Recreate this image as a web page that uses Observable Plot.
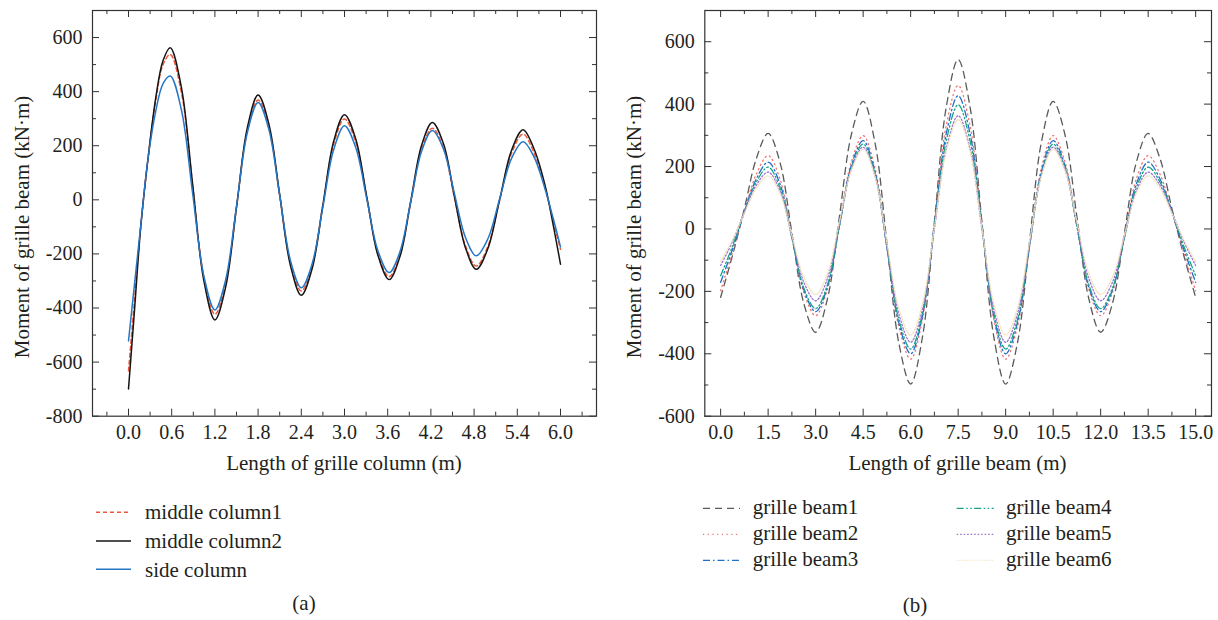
<!DOCTYPE html>
<html><head><meta charset="utf-8">
<script src="https://cdn.jsdelivr.net/npm/d3@7"></script>
<script src="https://cdn.jsdelivr.net/npm/@observablehq/plot@0.6"></script>
<style>
body{margin:0;background:#fff;}
#wrap{position:relative;width:1218px;height:620px;background:#fff;}
#wrap > div.p{position:absolute;top:0;}
#overlay{position:absolute;left:0;top:0;pointer-events:none;}
#overlay text{font-family:"Liberation Serif",serif;fill:#231f20;}
</style></head>
<body><div id="wrap"><div class="p" id="pa" style="left:0"></div><div class="p" id="pb" style="left:609px"></div></div>
<script>
// ---------- Panel (a) data ----------
const columnX = [0, 0.08, 0.17, 0.27, 0.38, 0.48, 0.58, 0.735, 0.89, 1.045, 1.2, 1.35, 1.5, 1.65, 1.8, 1.95, 2.1, 2.25, 2.4, 2.55, 2.7, 2.85, 3.0, 3.155, 3.31, 3.465, 3.62, 3.77, 3.92, 4.07, 4.22, 4.375, 4.525, 4.68, 4.83, 4.99, 5.155, 5.32, 5.48, 5.63, 5.78, 5.9, 6.0];
const middleColumn1 = [-633, -380, -98, 150, 370, 500, 537, 396, 57, -282, -423, -307, -27, 253, 369, 266, 16, -234, -337, -244, -19, 206, 299, 214, 8, -199, -284, -204, -10, 185, 265, 190, 10, -170, -245, -173, -1, 172, 243, 175, 50, -80, -183];
const middleColumn2 = [-699, -420, -100, 150, 380, 515, 562, 415, 59, -297, -444, -322, -28, 266, 388, 280, 18, -244, -353, -255, -19, 217, 315, 226, 10, -206, -295, -210, -5, 201, 286, 207, 15, -177, -257, -181, 1, 183, 259, 190, 60, -95, -238];
const sideColumn = [-522, -320, -95, 150, 330, 430, 458, 332, 26, -280, -407, -295, -24, 248, 360, 260, 18, -225, -325, -237, -26, 186, 274, 194, 3, -189, -269, -192, -7, 179, 256, 188, 25, -139, -207, -145, 4, 153, 215, 160, 45, -70, -174];
const colTicks = [0, 0.6, 1.2, 1.8, 2.4, 3.0, 3.6, 4.2, 4.8, 5.4, 6.0];
const colMinor = [-0.3, 0.3, 0.9, 1.5, 2.1, 2.7, 3.3, 3.9, 4.5, 5.1, 5.7, 6.3];
const momentTicksA = [600, 400, 200, 0, -200, -400, -600, -800];
const momentMinorA = [500, 300, 100, -100, -300, -500, -700];

// ---------- Panel (b) data ----------
const beamX = [0, 0.375, 0.75, 1.125, 1.5, 1.875, 2.25, 2.625, 3.0, 3.375, 3.75, 4.125, 4.5, 4.875, 5.25, 5.625, 6.0, 6.375, 6.75, 7.125, 7.5, 7.875, 8.25, 8.625, 9.0, 9.375, 9.75, 10.125, 10.5, 10.875, 11.25, 11.625, 12.0, 12.375, 12.75, 13.125, 13.5, 13.875, 14.25, 14.625, 15.0];
const grilleBeam1 = [-219, -85, 65, 225, 306, 213, -13, -238, -331, -223, 39, 301, 409, 276, -44, -364, -497, -345, 23, 391, 543, 391, 23, -345, -497, -364, -44, 276, 409, 301, 39, -223, -331, -238, -13, 213, 306, 225, 65, -85, -219];
const grilleBeam2 = [-198, -75, 55, 175, 235, 160, -22, -203, -278, -193, 11, 214, 299, 194, -59, -312, -417, -289, 22, 332, 460, 332, 22, -289, -417, -312, -59, 194, 299, 214, 11, -193, -278, -203, -22, 160, 235, 175, 55, -75, -198];
const grilleBeam3 = [-171, -65, 55, 160, 214, 144, -26, -195, -265, -185, 9, 203, 283, 183, -59, -300, -400, -279, 14, 306, 427, 306, 14, -279, -400, -300, -59, 183, 283, 203, 9, -185, -265, -195, -26, 144, 214, 160, 55, -65, -171];
const grilleBeam4 = [-150, -55, 55, 150, 198, 132, -29, -189, -255, -178, 9, 195, 272, 176, -57, -289, -385, -270, 7, 283, 398, 283, 7, -270, -385, -289, -57, 176, 272, 195, 9, -178, -255, -189, -29, 132, 198, 150, 55, -55, -150];
const grilleBeam5 = [-117, -40, 55, 140, 182, 122, -24, -170, -230, -158, 16, 190, 262, 170, -51, -271, -363, -257, 0, 257, 363, 257, 0, -257, -363, -271, -51, 170, 262, 190, 16, -158, -230, -170, -24, 122, 182, 140, 55, -40, -117];
const grilleBeam6 = [-105, -35, 50, 130, 170, 114, -20, -154, -210, -142, 23, 187, 255, 168, -43, -253, -340, -239, 5, 249, 350, 249, 5, -239, -340, -253, -43, 168, 255, 187, 23, -142, -210, -154, -20, 114, 170, 130, 50, -35, -105];
const beamTicks = [0, 1.5, 3.0, 4.5, 6.0, 7.5, 9.0, 10.5, 12.0, 13.5, 15.0];
const beamMinor = [0.75, 2.25, 3.75, 5.25, 6.75, 8.25, 9.75, 11.25, 12.75, 14.25];
const momentTicksB = [600, 400, 200, 0, -200, -400, -600];
const momentMinorB = [500, 300, 100, -100, -300, -500];

// ---------- Series styles ----------
const seriesA = [
  {name: "middle column1", values: middleColumn1, stroke: "#ee5b3b", dash: "4,3", width: 1.5},
  {name: "middle column2", values: middleColumn2, stroke: "#151515", dash: null, width: 1.5},
  {name: "side column", values: sideColumn, stroke: "#2577c6", dash: null, width: 1.5}
];
const seriesB = [
  {name: "grille beam1", values: grilleBeam1, stroke: "#5a5a5a", dash: "7,5", width: 1.3},
  {name: "grille beam2", values: grilleBeam2, stroke: "#f07474", dash: "1.2,3.5", width: 1.3},
  {name: "grille beam3", values: grilleBeam3, stroke: "#1f6fc8", dash: "7,3,1.5,3", width: 1.3},
  {name: "grille beam4", values: grilleBeam4, stroke: "#17a384", dash: "7,2.5,1.5,2.5,1.5,2.5", width: 1.3},
  {name: "grille beam5", values: grilleBeam5, stroke: "#9c72d2", dash: "1.5,2", width: 1.3},
  {name: "grille beam6", values: grilleBeam6, stroke: "#f1e2ba", dash: "1,1.5", width: 1.3}
];

const H = 480, MT = 10, MB = 64.3, FH = H - MT - MB;
const axisColor = "#333";
const fontStyle = {fontFamily: "'Liberation Serif', serif", fontSize: "20px", color: "#231f20", background: "white", overflow: "visible"};

function tickMarks(xMajor, xMinor, yMajor, yMinor, FW) {
  const M = 7, m = 4;
  return [
    Plot.tickX(xMajor, {x: d => d, insetTop: FH - M, stroke: axisColor}),
    Plot.tickX(xMinor, {x: d => d, insetTop: FH - m, stroke: axisColor}),
    Plot.tickX(xMajor, {x: d => d, insetBottom: FH - M, stroke: axisColor}),
    Plot.tickX(xMinor, {x: d => d, insetBottom: FH - m, stroke: axisColor}),
    Plot.tickY(yMajor, {y: d => d, insetRight: FW - M, stroke: axisColor}),
    Plot.tickY(yMinor, {y: d => d, insetRight: FW - m, stroke: axisColor}),
    Plot.tickY(yMajor, {y: d => d, insetLeft: FW - M, stroke: axisColor}),
    Plot.tickY(yMinor, {y: d => d, insetLeft: FW - m, stroke: axisColor})
  ];
}

function lineMarks(xs, series) {
  return series.map(s => Plot.line(xs.map((x, i) => ({x, v: s.values[i]})), {
    x: "x", y: "v", stroke: s.stroke, strokeWidth: s.width, strokeDasharray: s.dash, curve: "catmull-rom"
  }));
}

// Panel (a)
const WA = 609, MLA = 92, MRA = 13;
const plotA = Plot.plot({
  width: WA, height: H, marginLeft: MLA, marginRight: MRA, marginTop: MT, marginBottom: MB,
  x: {domain: [-0.5, 6.5]}, y: {domain: [-800, 700]},
  style: fontStyle,
  marks: [
    ...lineMarks(columnX, seriesA),
    ...tickMarks(colTicks, colMinor, momentTicksA, momentMinorA, WA - MLA - MRA),
    Plot.axisX(colTicks, {anchor: "bottom", tickSize: 0, tickPadding: 9, tickFormat: d => d.toFixed(1), label: null}),
    Plot.axisY(momentTicksA, {anchor: "left", tickSize: 0, tickPadding: 10, tickFormat: d => String(d), label: null}),
    Plot.frame({stroke: axisColor, strokeWidth: 1.2})
  ]
});
document.getElementById("pa").appendChild(plotA);

// Panel (b)
const WB = 609, MLB = 95.3, MRB = 7;
const plotB = Plot.plot({
  width: WB, height: H, marginLeft: MLB, marginRight: MRB, marginTop: MT, marginBottom: MB,
  x: {domain: [-0.5, 15.5]}, y: {domain: [-600, 700]},
  style: fontStyle,
  marks: [
    ...lineMarks(beamX, seriesB),
    ...tickMarks(beamTicks, beamMinor, momentTicksB, momentMinorB, WB - MLB - MRB),
    Plot.axisX(beamTicks, {anchor: "bottom", tickSize: 0, tickPadding: 9, tickFormat: d => d.toFixed(1), label: null}),
    Plot.axisY(momentTicksB, {anchor: "left", tickSize: 0, tickPadding: 10, tickFormat: d => String(d), label: null}),
    Plot.frame({stroke: axisColor, strokeWidth: 1.2})
  ]
});
document.getElementById("pb").appendChild(plotB);

// ---------- Titles, legends, panel letters ----------
const ns = "http://www.w3.org/2000/svg";
const ov = document.createElementNS(ns, "svg");
ov.setAttribute("id", "overlay");
ov.setAttribute("width", 1218); ov.setAttribute("height", 620);
document.getElementById("wrap").appendChild(ov);
function txt(str, x, y, opts = {}) {
  const t = document.createElementNS(ns, "text");
  t.textContent = str;
  t.setAttribute("x", x); t.setAttribute("y", y);
  t.setAttribute("font-size", opts.size || 21);
  if (opts.anchor) t.setAttribute("text-anchor", opts.anchor);
  if (opts.transform) t.setAttribute("transform", opts.transform);
  ov.appendChild(t);
}
function seg(x1, x2, y, s) {
  const l = document.createElementNS(ns, "line");
  l.setAttribute("x1", x1); l.setAttribute("x2", x2); l.setAttribute("y1", y); l.setAttribute("y2", y);
  l.setAttribute("stroke", s.stroke); l.setAttribute("stroke-width", s.width);
  if (s.dash) l.setAttribute("stroke-dasharray", s.dash);
  ov.appendChild(l);
}
const yTitle = "Moment of grille beam (kN\u00B7m)";
txt(yTitle, 0, 0, {anchor: "middle", transform: "translate(29,227) rotate(-90)"});
txt(yTitle, 0, 0, {anchor: "middle", transform: "translate(641,227) rotate(-90)"});
txt("Length of grille column (m)", 344, 470, {anchor: "middle"});
txt("Length of grille beam (m)", 957.5, 470, {anchor: "middle"});

const legA = [[512.3, 519], [541, 548], [569.3, 576.7]];
seriesA.forEach((s, i) => { seg(96, 131, legA[i][0], s); txt(s.name, 145, legA[i][1]); });
const legBy = [[508.3, 514], [534.3, 540], [560.3, 566]];
seriesB.forEach((s, i) => {
  const col = Math.floor(i / 3), r = i % 3;
  const lx = col ? 956.7 : 703, tx = col ? 1006 : 752.7;
  seg(lx, lx + 37, legBy[r][0], s);
  txt(s.name, tx, legBy[r][1]);
});
txt("(a)", 304, 610, {anchor: "middle"});
txt("(b)", 915, 612, {anchor: "middle"});
</script>
</body></html>
